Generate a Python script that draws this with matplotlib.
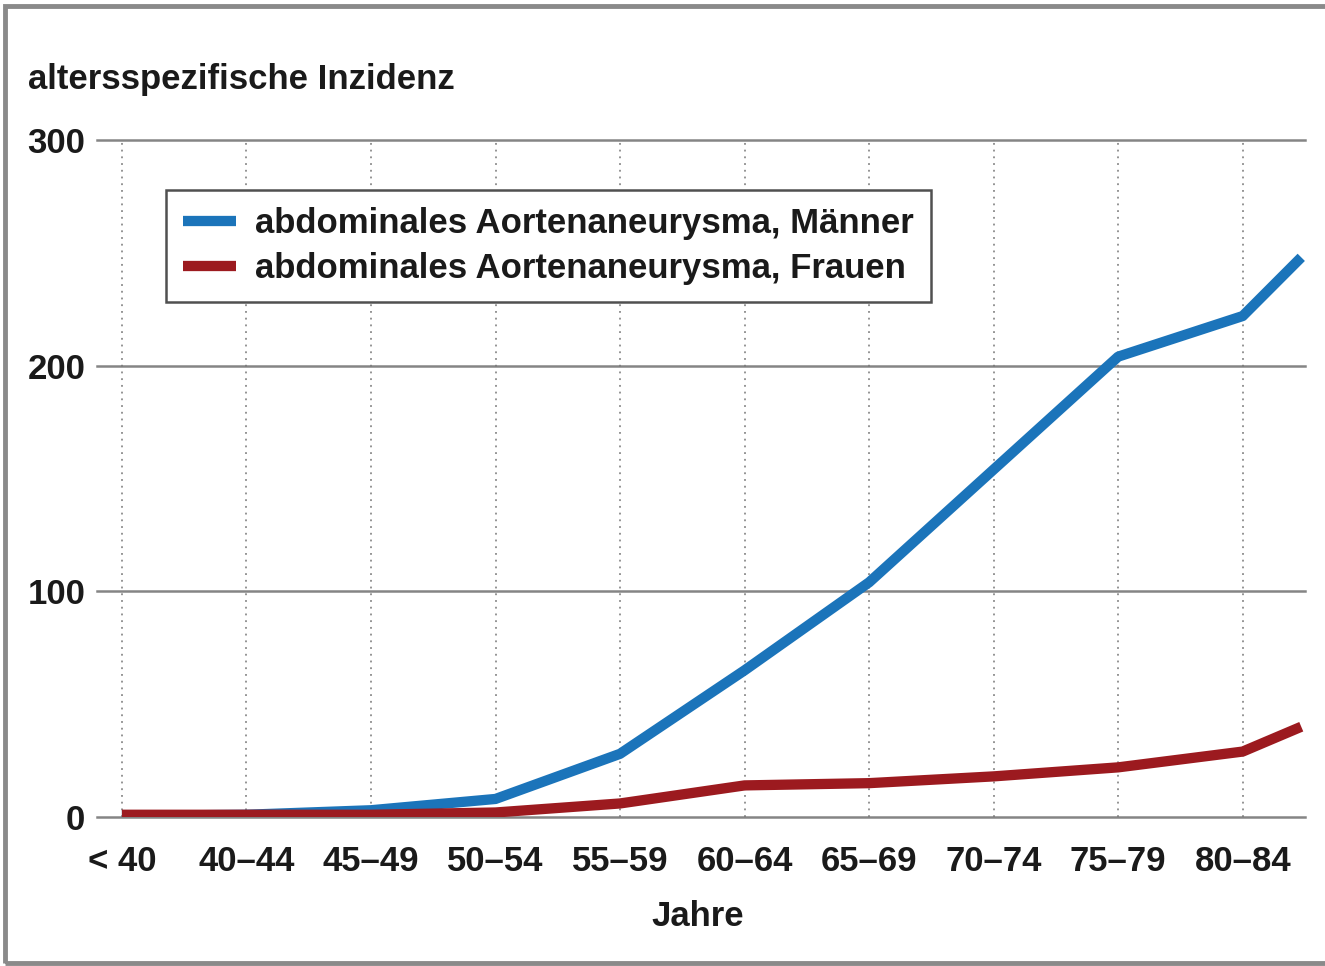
import matplotlib
matplotlib.use("Agg")
import matplotlib.pyplot as plt
from matplotlib.patches import Rectangle

# ── data ──────────────────────────────────────────────────────────────
age_groups = ["< 40", "40–44", "45–49", "50–54", "55–59",
              "60–64", "65–69", "70–74", "75–79", "80–84"]
# last point sits half a step past 80–84 (unlabelled 85+ group, clipped)
x_pos = [0, 1, 2, 3, 4, 5, 6, 7, 8, 9, 9.47]
maenner = [0.5, 1, 3, 8, 28, 65, 104, 154, 204, 222, 248]
frauen = [1, 1, 1, 2, 6, 14, 15, 18, 22, 29, 40]
y_ticks = [0, 100, 200, 300]

BLUE = "#1b74ba"
RED = "#9c1a1f"
GRID = "#858585"
TXT = "#1a1a1a"
FS = 25

plt.rcParams["font.family"] = ["Liberation Sans", "DejaVu Sans"]

fig = plt.figure(figsize=(13.25, 9.66), dpi=100)
ax = fig.add_axes([97 / 1325, 1 - 817 / 966, (1305 - 97) / 1325, (817 - 140) / 966])

ax.plot(x_pos, maenner, color=BLUE, lw=7.4, solid_capstyle="butt",
        solid_joinstyle="round", zorder=3,
        label="abdominales Aortenaneurysma, Männer")
ax.plot(x_pos, frauen, color=RED, lw=7.4, solid_capstyle="butt",
        solid_joinstyle="round", zorder=4,
        label="abdominales Aortenaneurysma, Frauen")

ax.set_xlim(-0.2, 9.5)
ax.set_ylim(0, 300)

# horizontal solid gridlines, vertical dotted lines at the age groups
for v in y_ticks:
    ax.axhline(v, color=GRID, lw=1.8, zorder=1, clip_on=False)
for i in range(len(age_groups)):
    ax.axvline(i, color="#777777", lw=1.1, ls=(0, (1.2, 3.2)), zorder=1)

for s in ax.spines.values():
    s.set_visible(False)

ax.set_xticks(range(len(age_groups)))
ax.set_xticklabels(age_groups)
ax.set_yticks(y_ticks)
ax.tick_params(axis="both", length=0, labelsize=FS, colors=TXT)
ax.tick_params(axis="y", pad=8.5)
ax.tick_params(axis="x", pad=20)
for lab in ax.get_xticklabels() + ax.get_yticklabels():
    lab.set_fontweight("bold")

fig.text(28 / 1325, 1 - 80 / 966, "altersspezifische Inzidenz",
         fontsize=FS, fontweight="bold", color=TXT, va="center", ha="left")
fig.text(698 / 1325, 1 - 916 / 966, "Jahre",
         fontsize=FS, fontweight="bold", color=TXT, va="center", ha="center")

leg = ax.legend(loc="upper left", bbox_to_anchor=((166 - 97) / 1208, (817 - 190) / 677),
                borderaxespad=0, frameon=True, fancybox=False,
                handlelength=1.53, handleheight=0.7, handletextpad=0.52,
                borderpad=0.5, labelspacing=0.33,
                prop={"weight": "bold", "size": FS})
leg.get_frame().set_edgecolor("#505050")
leg.get_frame().set_linewidth(1.8)
leg.get_frame().set_alpha(1)
for t in leg.get_texts():
    t.set_color(TXT)

# outer gray frame
fig.patches.append(Rectangle((5 / 1325, 3 / 966), 1.2, 1 - 9 / 966,
                             transform=fig.transFigure, fill=False,
                             edgecolor="#8a8a8a", lw=3.5))

fig.savefig("out.png", dpi=100)
